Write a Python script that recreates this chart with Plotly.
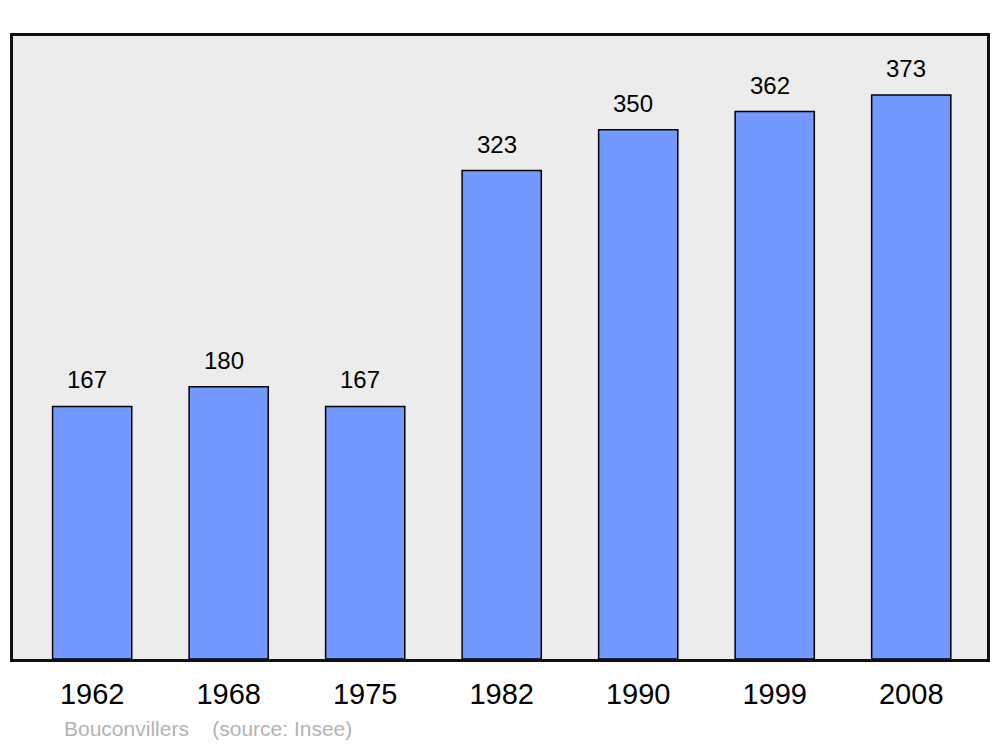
import plotly.graph_objects as go

years = ["1962", "1968", "1975", "1982", "1990", "1999", "2008"]
population = [167, 180, 167, 323, 350, 362, 373]
source_text = "Bouconvillers    (source: Insee)"

xpos = list(range(len(years)))
FONT = "Liberation Sans, Arial, sans-serif"

fig = go.Figure()
fig.add_trace(go.Bar(
    x=xpos, y=population, width=0.58,
    marker=dict(color="#7399ff", line=dict(color="#000000", width=1.5)),
    hoverinfo="skip",
))

for xi, v in zip(xpos, population):
    fig.add_annotation(x=xi, y=v, text=str(v), showarrow=False,
                       yanchor="bottom", yshift=11, xshift=-5,
                       font=dict(family=FONT, size=24, color="#000000"))

fig.add_annotation(xref="paper", yref="paper", x=0.05, y=-0.112, text=source_text,
                   showarrow=False, xanchor="left", yanchor="middle",
                   font=dict(family=FONT, size=21, color="#b3b3b3"))

fig.update_layout(
    width=992, height=739,
    margin=dict(l=5, r=13, t=28, b=88),
    paper_bgcolor="#ffffff", plot_bgcolor="#ececec",
    showlegend=False,
    xaxis=dict(range=[-0.58, 6.555], tickmode="array", tickvals=xpos, ticktext=years,
               showgrid=False, zeroline=False, showline=True, mirror=True,
               linecolor="#111111", linewidth=2.5, ticks="outside", ticklen=7,
               tickcolor="rgba(0,0,0,0)",
               tickfont=dict(family=FONT, size=29, color="#000000")),
    yaxis=dict(range=[0, 412], showgrid=False, zeroline=False, showticklabels=False,
               showline=True, mirror=True, linecolor="#111111", linewidth=2.5),
)

fig.write_html("out.html")
